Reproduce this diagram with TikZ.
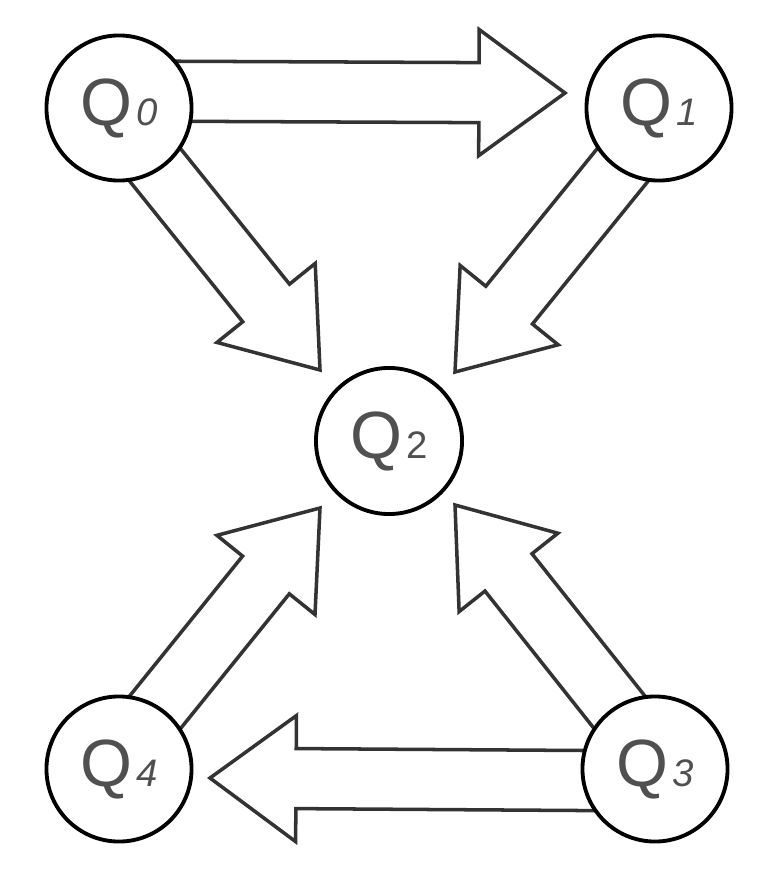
\documentclass[tikz,border=0pt]{standalone}
\usepackage{fontspec}
\setmainfont{Liberation Sans}
\usetikzlibrary{
    calc,          % Coordinate calculations
    backgrounds    % Background layers
}

\definecolor{qgray}{HTML}{505050}
\definecolor{arrowgray}{HTML}{333333}

\newcommand{\qname}[2][\itshape]{{\fontsize{19}{19}\selectfont Q}\kern1.2pt{\fontsize{10.9}{11}\selectfont #1#2}}

\tikzset{
    state/.style={circle, draw=black, line width=1.1pt, fill=white,
        minimum size=1.45cm, inner sep=0pt, text=qgray},
    % hollow block arrow: shaft half width 0.3cm, head half width 0.63cm, head length 0.86cm
    bigarrow/.style={draw=arrowgray, line width=1.0pt, fill=white, line join=miter,
        to path={
            ($(\tikztostart)!0.3cm!90:(\tikztotarget)$)
            -- ($(\tikztotarget)!0.86cm!(\tikztostart)!0.3cm!90:(\tikztotarget)$)
            -- ($(\tikztotarget)!0.86cm!(\tikztostart)!0.63cm!90:(\tikztotarget)$)
            -- (\tikztotarget)
            -- ($(\tikztotarget)!0.86cm!(\tikztostart)!0.63cm!-90:(\tikztotarget)$)
            -- ($(\tikztotarget)!0.86cm!(\tikztostart)!0.3cm!-90:(\tikztotarget)$)
            -- ($(\tikztostart)!0.3cm!-90:(\tikztotarget)$)
            -- cycle}}
}

\begin{document}
\begin{tikzpicture}[x=0.01cm, y=-0.01cm]
    \useasboundingbox (0,0) rectangle (770,876);

    \node[state] (Q0) at (119,108) {\qname{0}};
    \node[state] (Q1) at (659,108) {\qname{1}};
    \node[state, minimum size=1.46cm] (Q2) at (389,441) {\qname[\upshape]{2}};
    \node[state] (Q3) at (655,769) {\qname{3}};
    \node[state] (Q4) at (119,769) {\qname{4}};

    \begin{scope}[on background layer]
        \draw[bigarrow] ($(Q0)+(0,-17)$) to ($(Q1)+(-94,-15)$);
        \draw[bigarrow] ($(Q0)+(0,12)$) to ($(Q2)+(-69,-71)$);
        \draw[bigarrow] ($(Q1)+(0,12)$) to ($(Q2)+(66,-69)$);
        \draw[bigarrow] ($(Q4)+(0,-12)$) to ($(Q2)+(-69,67)$);
        \draw[bigarrow] ($(Q3)+(0,-12)$) to ($(Q2)+(66,64)$);
        \draw[bigarrow] ($(Q3)+(0,12)$) to ($(Q4)+(91,9)$);
    \end{scope}
\end{tikzpicture}
\end{document}
